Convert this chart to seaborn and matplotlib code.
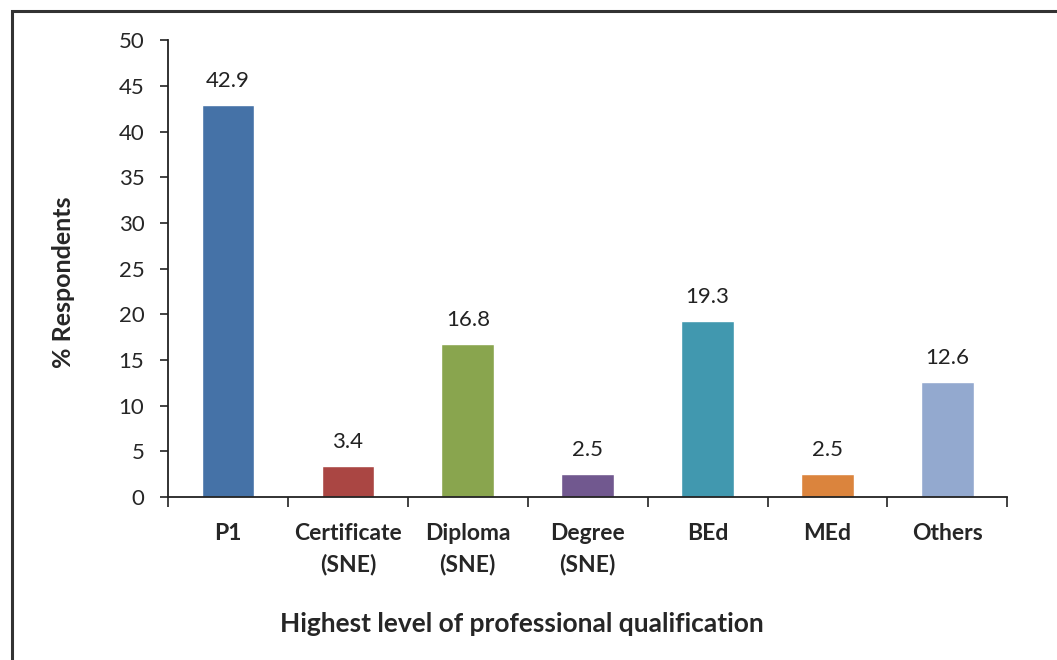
import matplotlib.pyplot as plt
import matplotlib.patches as mpatches
import pandas as pd
import seaborn as sns

# Data
categories = ['P1', 'Certificate\n(SNE)', 'Diploma\n(SNE)', 'Degree\n(SNE)', 'BEd', 'MEd', 'Others']
percent = [42.9, 3.4, 16.8, 2.5, 19.3, 2.5, 12.6]
bar_colors = ['#4572A7', '#AA4643', '#89A54E', '#71588F', '#4198AF', '#DB843D', '#93A9CF']

df = pd.DataFrame({'qualification': categories, 'percent': percent})

sns.set_style('white')
plt.rcParams['font.family'] = ['Lato', 'DejaVu Sans']

fig = plt.figure(figsize=(10.57, 6.6), dpi=100)
ax = fig.add_axes([0.159, 0.247, 0.794, 0.692])

sns.barplot(
    data=df,
    x='qualification',
    y='percent',
    hue='qualification',
    palette=bar_colors,
    legend=False,
    width=0.44,
    saturation=1,
    ax=ax
)

for i, v in enumerate(percent):
    ax.annotate(f'{v}', (i, v), xytext=(0, 10), textcoords='offset points',
                ha='center', va='bottom', fontsize=16, color='#222222')

ax.set_ylim(0, 50)
ax.set_xlim(-0.5, len(categories) - 0.5)
ax.set_yticks(range(0, 51, 5))
ax.tick_params(axis='y', labelsize=16, length=6, width=1.2, pad=11,
               direction='out', left=True, color='#222222')
ax.set_xticks(range(len(categories)))
ax.set_xticklabels(categories, fontsize=16.5, fontweight='bold', linespacing=1.5)
ax.tick_params(axis='x', which='major', length=0, pad=19)
ax.set_xticks([i - 0.5 for i in range(len(categories) + 1)], minor=True)
ax.tick_params(axis='x', which='minor', length=7, width=1.2, direction='out', bottom=True, color='#222222')

sns.despine(ax=ax)
for side in ['left', 'bottom']:
    ax.spines[side].set_color('#222222')
    ax.spines[side].set_linewidth(1.3)

ax.set_xlabel('Highest level of professional qualification', fontsize=19, fontweight='bold')
ax.xaxis.set_label_coords(0.422, -0.252)
ax.set_ylabel('% Respondents', fontsize=18, fontweight='bold')
ax.yaxis.set_label_coords(-0.111, 0.47)

# outer chart border (cut off at right and bottom like the source)
fig.patches.append(mpatches.Rectangle((12 / 1057, -0.1), 1.2, (660 - 11) / 660 + 0.1,
                                      transform=fig.transFigure, fill=False,
                                      edgecolor='#333333', linewidth=2.2))

fig.savefig('out.png', dpi=100)
